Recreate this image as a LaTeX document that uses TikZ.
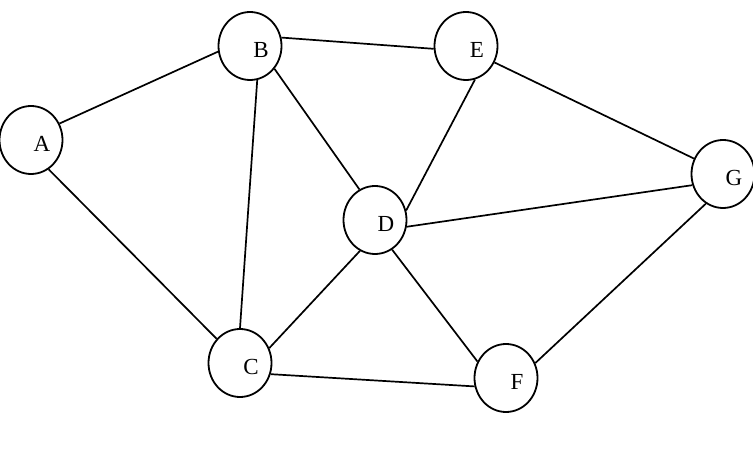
\documentclass[tikz,border=0pt]{standalone}
\usepackage{fontspec}
\setmainfont{Liberation Serif}
\usetikzlibrary{shapes.geometric}
\tikzset{
  vtx/.style={ellipse,draw=black,line width=1.8pt,minimum width=63pt,
    minimum height=68pt,inner sep=0pt,label={[vlbl]center:#1}},
  vlbl/.style={font=\fontsize{23}{26}\selectfont,xshift=11pt,yshift=-4pt,
    inner sep=0pt},
  gedge/.style={line width=1.7pt,black},
}
\begin{document}
\begin{tikzpicture}[x=1pt,y=-1pt]
  \useasboundingbox (0,0) rectangle (753,454);
  \node[vtx=A] (A) at (31,140) {};
  \node[vtx=B] (B) at (250,46) {};
  \node[vtx=E] (E) at (466,46) {};
  \node[vtx=G] (G) at (723,174) {};
  \node[vtx=D] (D) at (375,220) {};
  \node[vtx=C] (C) at (240,363) {};
  \node[vtx=F] (F) at (506,378) {};
  % edges leave the circles at fixed angles
  \draw[gedge] (A.30)--(B.190) (A.-59)--(C.134) (B.15)--(E.185)
    (B.-78)--(C.north) (B.-43)--(D.117) (E.-75)--(D.17)
    (E.-30)--(G.152) (D.-12)--(G.200) (D.-116)--(C.27)
    (D.-60)--(F.150) (C.-20)--(F.195) (F.27)--(G.240);
\end{tikzpicture}
\end{document}
